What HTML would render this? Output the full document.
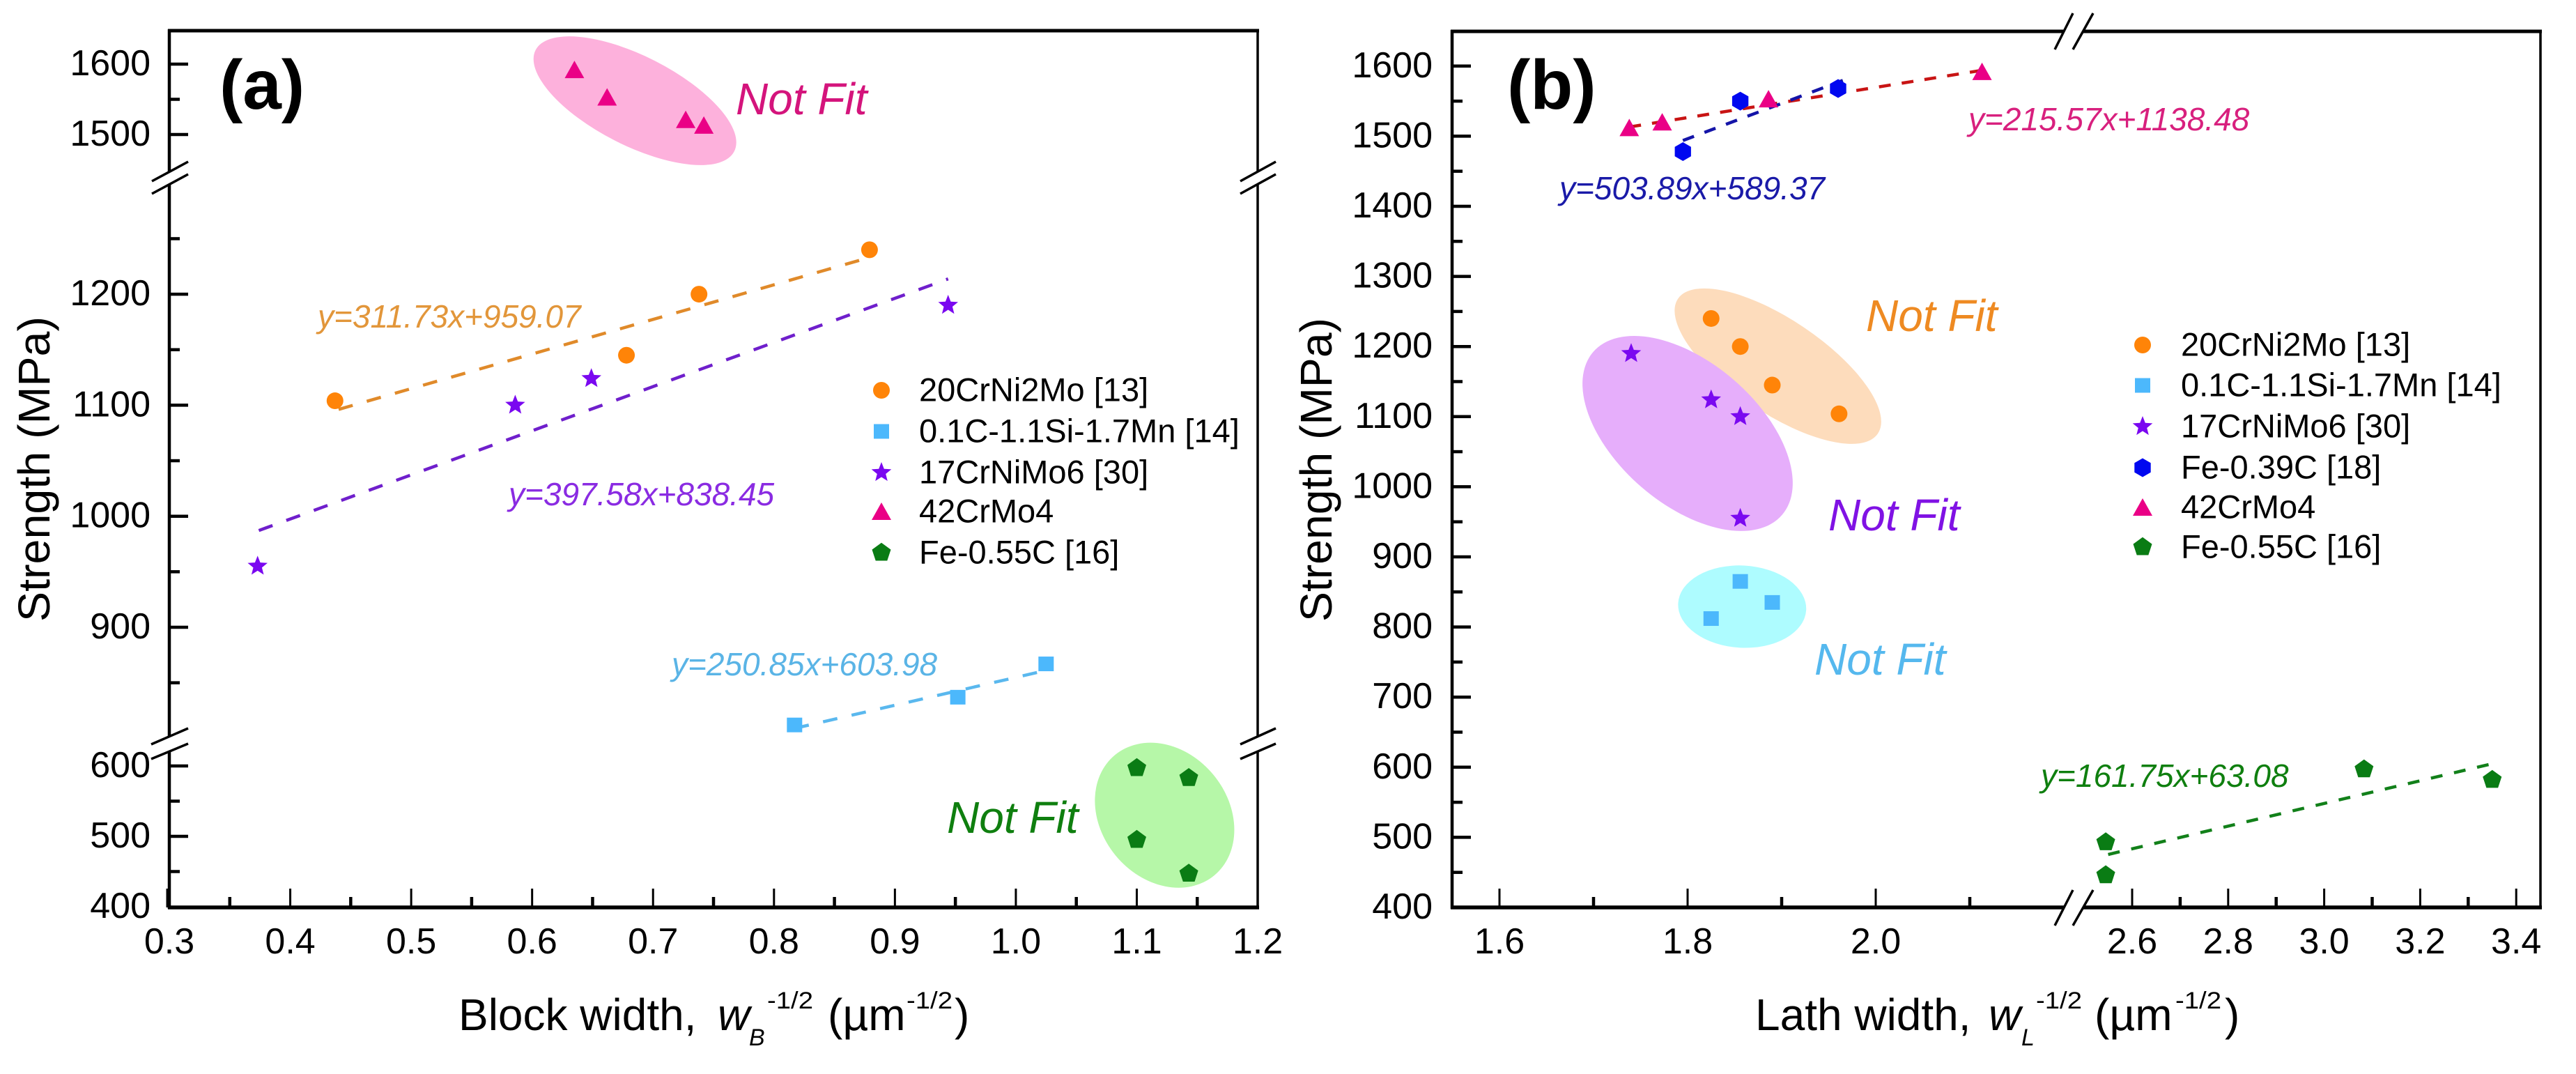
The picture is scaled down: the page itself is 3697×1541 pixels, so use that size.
<!DOCTYPE html>
<html lang="en">
<head>
<meta charset="utf-8">
<title>Strength vs block and lath width</title>
<style>
html,body{margin:0;padding:0;background:#fff;width:3697px;height:1541px;overflow:hidden}
svg{display:block}
text{font-family:"Liberation Sans",Arial,sans-serif}
.it{font-style:italic}
.title{font-size:64px;fill:#000}
.sup{font-size:34px;fill:#000}
.sub{font-size:34px;fill:#000;font-style:italic}
.eq{font-size:46px;font-style:italic}
.nf{font-size:64px;font-style:italic}
.pl{font-size:100px;font-weight:bold;fill:#000}
</style>
</head>
<body>
<svg id="chart" xmlns="http://www.w3.org/2000/svg" width="3697" height="1541" viewBox="0 0 3697 1541">
  <rect x="0" y="0" width="3697" height="1541" fill="#fff"/>
  <g id="blobs"></g>
  <g id="fits"></g>
  <g id="marks"></g>
  <g id="axes"></g>

  <text class="pl" x="315" y="156">(a)</text>
  <text class="pl" x="2163" y="156">(b)</text>

  <text class="title" transform="translate(71,892) rotate(-90)" textLength="438" lengthAdjust="spacingAndGlyphs">Strength (MPa)</text>
  <text class="title" transform="translate(1911,892) rotate(-90)" textLength="436" lengthAdjust="spacingAndGlyphs">Strength (MPa)</text>

  <g>
    <text class="title" x="658" y="1478">Block width,</text>
    <text class="title it" x="1030" y="1478">w</text>
    <text class="sub" x="1075" y="1500">B</text>
    <text class="sup" x="1101" y="1447" textLength="66" lengthAdjust="spacingAndGlyphs">-1/2</text>
    <text class="title" x="1188" y="1478">(µm</text>
    <text class="sup" x="1301" y="1447" textLength="66" lengthAdjust="spacingAndGlyphs">-1/2</text>
    <text class="title" x="1370" y="1478">)</text>
  </g>
  <g>
    <text class="title" x="2519" y="1478">Lath width,</text>
    <text class="title it" x="2854" y="1478">w</text>
    <text class="sub" x="2901" y="1500">L</text>
    <text class="sup" x="2922" y="1447" textLength="66" lengthAdjust="spacingAndGlyphs">-1/2</text>
    <text class="title" x="3006" y="1478">(µm</text>
    <text class="sup" x="3122" y="1447" textLength="66" lengthAdjust="spacingAndGlyphs">-1/2</text>
    <text class="title" x="3193" y="1478">)</text>
  </g>

  <text class="eq" fill="#e2963a" x="456" y="470">y=311.73x+959.07</text>
  <text class="eq" fill="#8a2be2" x="730" y="725">y=397.58x+838.45</text>
  <text class="eq" fill="#5ab4e6" x="964" y="969">y=250.85x+603.98</text>
  <text class="eq" fill="#d8207e" x="2825" y="187">y=215.57x+1138.48</text>
  <text class="eq" fill="#1a1aa8" x="2238" y="286">y=503.89x+589.37</text>
  <text class="eq" fill="#0f7f0f" x="2929" y="1129">y=161.75x+63.08</text>

  <text class="nf" fill="#d4147c" x="1056" y="164">Not Fit</text>
  <text class="nf" fill="#0f7f0f" x="1359" y="1195">Not Fit</text>
  <text class="nf" fill="#ee8a22" x="2678" y="475">Not Fit</text>
  <text class="nf" fill="#8012e4" x="2624" y="761">Not Fit</text>
  <text class="nf" fill="#55b8ee" x="2604" y="968">Not Fit</text>

  <g id="legends"></g>
</svg>
<script>
// ---------- Panel (a) data: block width vs strength ----------
const aOrangeX = [0.437, 0.678, 0.738, 0.879];
const aOrangeY = [1104, 1145, 1200, 1240];
const aCyanX = [0.817, 0.952, 1.025];
const aCyanY = [812, 837, 867];
const aPurpleX = [0.373, 0.586, 0.649, 0.944];
const aPurpleY = [955, 1100, 1124, 1190];
const aPinkX = [0.635, 0.662, 0.727, 0.742];
const aPinkY = [1592, 1553, 1521, 1513];
const aGreenX = [1.1, 1.143, 1.1, 1.143];
const aGreenY = [597, 583, 495, 447];

// ---------- Panel (b) data: lath width vs strength ----------
const bOrangeX = [1.825, 1.856, 1.89, 1.961];
const bOrangeY = [1240, 1200, 1145, 1104];
const bCyanX = [1.856, 1.825, 1.89];
const bCyanY = [865, 812, 835];
const bPurpleX = [1.74, 1.825, 1.856, 1.856];
const bPurpleY = [1190, 1124, 1100, 955];
const bBlueX = [1.795, 1.856, 1.96];
const bBlueY = [1478, 1550, 1568];
const bPinkX = [1.738, 1.773, 1.886, 2.113];
const bPinkY = [1512, 1520, 1553, 1592];
const bGreenX = [2.545, 2.545, 3.083, 3.35];
const bGreenY = [493, 446, 597, 582];

// ---------- Ticks ----------
const aYMajor = [400, 500, 600, 900, 1000, 1100, 1200, 1500, 1600];
const aYMinor = [450, 550, 850, 950, 1050, 1150, 1250, 1550];
const aXMajor = [0.3, 0.4, 0.5, 0.6, 0.7, 0.8, 0.9, 1.0, 1.1, 1.2];
const aXMinor = [0.35, 0.45, 0.55, 0.65, 0.75, 0.85, 0.95, 1.05, 1.15];
const bYMajor = [400, 500, 600, 700, 800, 900, 1000, 1100, 1200, 1300, 1400, 1500, 1600];
const bYMinor = [450, 550, 650, 750, 850, 950, 1050, 1150, 1250, 1350, 1450, 1550];
const bXMajor = [1.6, 1.8, 2.0, 2.6, 2.8, 3.0, 3.2, 3.4];
const bXMinor = [1.7, 1.9, 2.1, 2.7, 2.9, 3.1, 3.3];

// ---------- Linear fits printed on the chart ----------
const aOrangeFit = [311.73, 959.07];
const aOrangeFitRange = [0.44, 0.88];
const aPurpleFit = [397.58, 838.45];
const aPurpleFitRange = [0.374, 0.944];
const aCyanFit = [250.85, 603.98];
const aCyanFitRange = [0.817, 1.025];
const bPinkFit = [215.57, 1138.48];
const bPinkFitRange = [1.738, 2.113];
const bBlueFit = [503.89, 589.37];
const bBlueFitRange = [1.795, 1.965];
const bGreenFit = [161.75, 63.08];
const bGreenFitRange = [2.55, 3.345];

// ---------- Not-fit region centres in data units ----------
const aPinkBlobCentre = [0.685, 1548];
const aGreenBlobCentre = [1.123, 530];
const bOrangeBlobCentre = [1.896, 1172];
const bPurpleBlobCentre = [1.8, 1076];
const bCyanBlobCentre = [1.858, 829];

// ---------- Legend labels ----------
const aLegendLabels = ['20CrNi2Mo [13]', '0.1C-1.1Si-1.7Mn [14]', '17CrNiMo6 [30]', '42CrMo4', 'Fe-0.55C [16]'];
const bLegendLabels = ['20CrNi2Mo [13]', '0.1C-1.1Si-1.7Mn [14]', '17CrNiMo6 [30]', 'Fe-0.39C [18]', '42CrMo4', 'Fe-0.55C [16]'];

// ---------- Axis functions ----------
function xA(v) { return 243 + (v - 0.3) * 1735.6; }
function yA(v) {
  if (v >= 1400) return 193 - (v - 1500) * 1.01;
  if (v >= 700) return 900 - (v - 900) * 1.593;
  return 1301 - (v - 400) * 1.01;
}
function xB(v) {
  if (v < 2.3) return 2152 + (v - 1.6) * 1350;
  return 3060 + (v - 2.6) * 689;
}
function yB(v) { return 1302 - (v - 400) * 1.006; }

const NS = 'http://www.w3.org/2000/svg';
function mk(tag, attrs, parent) {
  const el = document.createElementNS(NS, tag);
  for (const k in attrs) el.setAttribute(k, attrs[k]);
  parent.appendChild(el);
  return el;
}
const gBlobs = document.getElementById('blobs');
const gFits = document.getElementById('fits');
const gMarks = document.getElementById('marks');
const gAxes = document.getElementById('axes');
const gLegends = document.getElementById('legends');

const COL = { orange: '#ff8408', cyan: '#4cb8fc', purple: '#7a08f0', blue: '#0008f0', pink: '#ea0086', green: '#0a7c14' };

function polyPts(cx, cy, r, n, start) {
  const p = [];
  for (let i = 0; i < n; i++) {
    const t = start + i * 2 * Math.PI / n;
    p.push((cx + r * Math.cos(t)).toFixed(1) + ',' + (cy + r * Math.sin(t)).toFixed(1));
  }
  return p.join(' ');
}
function starPts(cx, cy, R, r) {
  const p = [];
  for (let i = 0; i < 10; i++) {
    const t = -Math.PI / 2 + i * Math.PI / 5;
    const q = i % 2 ? r : R;
    p.push((cx + q * Math.cos(t)).toFixed(1) + ',' + (cy + q * Math.sin(t)).toFixed(1));
  }
  return p.join(' ');
}
function drawMarker(shape, cx, cy, color, parent) {
  if (shape === 'circle') return mk('ellipse', { cx: cx, cy: cy, rx: 12, ry: 12, fill: color }, parent);
  if (shape === 'square') return mk('rect', { x: cx - 11, y: cy - 10.5, width: 22, height: 21, fill: color }, parent);
  if (shape === 'star') return mk('polygon', { points: starPts(cx, cy, 15, 6.5), fill: color }, parent);
  if (shape === 'triangle') return mk('polygon', { points: (cx - 14) + ',' + (cy + 12) + ' ' + (cx + 14) + ',' + (cy + 12) + ' ' + cx + ',' + (cy - 13), fill: color }, parent);
  if (shape === 'hexagon') return mk('polygon', { points: polyPts(cx, cy, 13.5, 6, -Math.PI / 2), fill: color }, parent);
  return mk('polygon', { points: polyPts(cx, cy, 14.2, 5, -Math.PI / 2), fill: color }, parent);
}
function drawSeries(name, xs, ys, sx, sy, shape, color) {
  xs.forEach(function (x, i) {
    const mark = drawMarker(shape, sx(x), sy(ys[i]), color, gMarks);
    
    
  });
}
function drawFit(name, fit, range, sx, sy, color, dash) {
  const line = mk('line', {
    x1: sx(range[0]), y1: sy(fit[0] * range[0] + fit[1]),
    x2: sx(range[1]), y2: sy(fit[0] * range[1] + fit[1]),
    stroke: color, 'stroke-width': 4.5, 'stroke-dasharray': dash
  }, gFits);
  
  
}
function drawBlob(name, centre, sx, sy, a, b, deg, color) {
  const cx = sx(centre[0]), cy = sy(centre[1]);
  const blob = mk('ellipse', { cx: cx, cy: cy, rx: a, ry: b, fill: color, transform: 'rotate(' + deg + ' ' + cx + ' ' + cy + ')' }, gBlobs);
  
  
}
function seg(name, x1, y1, x2, y2, w) {
  const l = mk('line', { x1: x1, y1: y1, x2: x2, y2: y2, stroke: '#000', 'stroke-width': w }, gAxes);
  
  
}
function drawAxes(p, left, right, top, bottom, sx, sy, yMaj, yMin, xMaj, xMin, xFmt, labelRight) {
  seg(p + '-frame-left', left, top - 2, left, bottom + 2, 4.5);
  seg(p + '-frame-right', right, top - 2, right, bottom + 2, 3.5);
  seg(p + '-frame-top', left - 2, top, right + 2, top, 5);
  seg(p + '-frame-bottom', left - 2, bottom, right + 2, bottom, 5.5);
  yMaj.forEach(function (v) {
    if (v !== 400) seg(p + '-y-tick-' + v, left, sy(v), left + 27, sy(v), 4.5);
    const t = mk('text', { x: labelRight, y: sy(v) + 16, 'text-anchor': 'end', 'font-size': 52, fill: '#000' }, gAxes);
    
    
    t.textContent = String(v);
  });
  yMin.forEach(function (v) { seg(p + '-y-minor-tick-' + v, left, sy(v), left + 15, sy(v), 4.5); });
  xMaj.forEach(function (v) {
    const x = sx(v);
    if (x > left + 3 && x < right - 3) seg(p + '-x-tick-' + xFmt(v), x, bottom, x, bottom - 27, 3);
    const t = mk('text', { x: x, y: 1368, 'text-anchor': 'middle', 'font-size': 52, fill: '#000' }, gAxes);
    
    
    t.textContent = xFmt(v);
  });
  xMin.forEach(function (v) { seg(p + '-x-minor-tick-' + xFmt(v), sx(v), bottom, sx(v), bottom - 15, 4.5); });
}
function drawBreak(name, a, b, c, d) {
  // a,b = first slash end points; c,d = second slash end points
  const w = mk('polygon', { points: a.join(',') + ' ' + b.join(',') + ' ' + d.join(',') + ' ' + c.join(','), fill: '#fff' }, gAxes);
  
  
  seg(name + '-slash-1', a[0], a[1], b[0], b[1], 3.5);
  seg(name + '-slash-2', c[0], c[1], d[0], d[1], 3.5);
}
function drawLegend(p, labels, shapes, colors, markerX, textX, rows) {
  labels.forEach(function (label, i) {
    const m = drawMarker(shapes[i], markerX, rows[i], colors[i], gLegends);
    
    
    const t = mk('text', { x: textX, y: rows[i] + 15.5, 'font-size': 47, fill: '#000' }, gLegends);
    
    
    t.textContent = label;
  });
}

// Not-fit regions
drawBlob('a-42crmo4', aPinkBlobCentre, xA, yA, 160, 64, 27, '#fdb1dc');
drawBlob('a-fe055c', aGreenBlobCentre, xA, yA, 112, 91, 50.5, '#b6f7a8');
drawBlob('b-20crni2mo', bOrangeBlobCentre, xB, yB, 173, 67, 34, '#fddcbc');
drawBlob('b-17crnimo6', bPurpleBlobCentre, xB, yB, 179, 101.5, 40.8, '#e6aefb');
drawBlob('b-01c', bCyanBlobCentre, xB, yB, 92, 59, 3, '#aefcff');

// Fit lines
drawFit('a-20crni2mo', aOrangeFit, aOrangeFitRange, xA, yA, '#e08a2a', '21 21');
drawFit('a-17crnimo6', aPurpleFit, aPurpleFitRange, xA, yA, '#6f1fcc', '21 21');
drawFit('a-01c', aCyanFit, aCyanFitRange, xA, yA, '#5ab8ee', '21 21');
drawFit('b-42crmo4', bPinkFit, bPinkFitRange, xB, yB, '#c81414', '17 16');
drawFit('b-fe039c', bBlueFit, bBlueFitRange, xB, yB, '#1414a8', '17 16');
drawFit('b-fe055c', bGreenFit, bGreenFitRange, xB, yB, '#12801a', '17 17');

// Data points
drawSeries('a-20crni2mo', aOrangeX, aOrangeY, xA, yA, 'circle', COL.orange);
drawSeries('a-01c', aCyanX, aCyanY, xA, yA, 'square', COL.cyan);
drawSeries('a-17crnimo6', aPurpleX, aPurpleY, xA, yA, 'star', COL.purple);
drawSeries('a-42crmo4', aPinkX, aPinkY, xA, yA, 'triangle', COL.pink);
drawSeries('a-fe055c', aGreenX, aGreenY, xA, yA, 'pentagon', COL.green);
drawSeries('b-20crni2mo', bOrangeX, bOrangeY, xB, yB, 'circle', COL.orange);
drawSeries('b-01c', bCyanX, bCyanY, xB, yB, 'square', COL.cyan);
drawSeries('b-17crnimo6', bPurpleX, bPurpleY, xB, yB, 'star', COL.purple);
drawSeries('b-fe039c', bBlueX, bBlueY, xB, yB, 'hexagon', COL.blue);
drawSeries('b-42crmo4', bPinkX, bPinkY, xB, yB, 'triangle', COL.pink);
drawSeries('b-fe055c', bGreenX, bGreenY, xB, yB, 'pentagon', COL.green);

// Axes
function fmt1(v) { return v.toFixed(1); }
function fmt2(v) { return v.toFixed(2); }
drawAxes('panel-a', 243, 1805, 44, 1302, xA, yA, aYMajor, aYMinor, aXMajor, aXMinor, function (v) { return Number.isInteger(Math.round(v * 100) / 10) ? fmt1(v) : fmt2(v); }, 216);
drawAxes('panel-b', 2084, 3646, 45, 1302, xB, yB, bYMajor, bYMinor, bXMajor, bXMinor, fmt1, 2056);
seg('panel-a-x-tick-0.3', 241, 1302, 241, 1275, 5);

// Axis breaks
drawBreak('panel-a-y-break-upper-left', [218, 260], [270, 232], [218, 278], [270, 250]);
drawBreak('panel-a-y-break-lower-left', [217, 1068], [270, 1045], [217, 1089], [270, 1067]);
drawBreak('panel-a-y-break-upper-right', [1780, 260], [1831, 232], [1780, 278], [1831, 250]);
drawBreak('panel-a-y-break-lower-right', [1780, 1068], [1831, 1045], [1780, 1089], [1831, 1067]);
drawBreak('panel-b-x-break-top', [2949, 71], [2975, 19], [2975, 71], [3004, 19]);
drawBreak('panel-b-x-break-bottom', [2949, 1328], [2975, 1277], [2975, 1328], [3004, 1277]);

// Legends
drawLegend('panel-a', aLegendLabels,
  ['circle', 'square', 'star', 'triangle', 'pentagon'],
  [COL.orange, COL.cyan, COL.purple, COL.pink, COL.green],
  1265, 1319, [560, 619, 678, 734, 793]);
drawLegend('panel-b', bLegendLabels,
  ['circle', 'square', 'star', 'hexagon', 'triangle', 'pentagon'],
  [COL.orange, COL.cyan, COL.purple, COL.blue, COL.pink, COL.green],
  3075, 3130, [495, 553, 612, 671, 728, 785]);
</script>
</body>
</html>
